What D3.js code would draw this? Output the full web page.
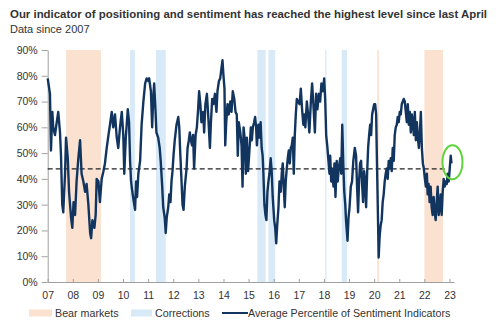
<!DOCTYPE html>
<html>
<head>
<meta charset="utf-8">
<script src="https://cdn.jsdelivr.net/npm/d3@7"></script>
<style>
  body { margin: 0; background: #fff; }
  svg { display: block; font-family: "Liberation Sans", Arial, sans-serif; }
  .axis text { fill: #333; font-size: 10.5px; }
  .axis path, .axis line { stroke: #a0a0a0; }
</style>
</head>
<body>
<svg id="chart" width="500" height="324"></svg>
<script>
// decimal years and average percentile (%)
const dates = [
  2007.00, 2007.03, 2007.09, 2007.13, 2007.185, 2007.22, 2007.29, 2007.36, 2007.42, 2007.49,
  2007.53, 2007.58, 2007.62, 2007.69, 2007.73, 2007.80, 2007.85, 2007.93, 2007.98, 2008.03,
  2008.09, 2008.15, 2008.22, 2008.29, 2008.35, 2008.42, 2008.49, 2008.55, 2008.62, 2008.69,
  2008.73, 2008.78, 2008.86, 2008.91, 2008.95, 2009.02, 2009.08, 2009.15, 2009.22, 2009.28,
  2009.35, 2009.42, 2009.48, 2009.55, 2009.61, 2009.68, 2009.75, 2009.81, 2009.88, 2009.95,
  2010.01, 2010.05, 2010.11, 2010.19, 2010.24, 2010.28, 2010.32, 2010.37, 2010.43, 2010.48,
  2010.52, 2010.56, 2010.61, 2010.68, 2010.74, 2010.81, 2010.88, 2010.94,
  2011.00, 2011.04, 2011.11, 2011.16, 2011.20, 2011.24, 2011.29, 2011.33, 2011.40, 2011.46,
  2011.50, 2011.56, 2011.60, 2011.66, 2011.70, 2011.74, 2011.80, 2011.84, 2011.89, 2011.93,
  2011.97, 2012.01, 2012.06, 2012.13, 2012.20, 2012.24, 2012.27, 2012.33, 2012.37, 2012.41,
  2012.46, 2012.53, 2012.57, 2012.62, 2012.66, 2012.70, 2012.75, 2012.79, 2012.83, 2012.89,
  2012.94, 2012.99, 2013.03, 2013.08, 2013.12, 2013.19, 2013.23, 2013.28, 2013.34, 2013.39,
  2013.46, 2013.50, 2013.55, 2013.60, 2013.66, 2013.72, 2013.76, 2013.82, 2013.87, 2013.92,
  2013.96, 2014.00, 2014.04, 2014.07, 2014.11, 2014.16, 2014.21, 2014.27, 2014.32, 2014.37,
  2014.43, 2014.48, 2014.53, 2014.57, 2014.61, 2014.67, 2014.72, 2014.76, 2014.80, 2014.85,
  2014.89, 2014.93, 2014.98, 2015.04,
  2015.09, 2015.13, 2015.17, 2015.22, 2015.26, 2015.30, 2015.33, 2015.39, 2015.43, 2015.48,
  2015.52, 2015.56, 2015.59, 2015.63, 2015.67, 2015.71, 2015.75, 2015.79, 2015.83, 2015.88,
  2015.92, 2015.96, 2016.02, 2016.06, 2016.10, 2016.14, 2016.19, 2016.23, 2016.28, 2016.32,
  2016.36, 2016.40, 2016.44, 2016.48, 2016.52, 2016.56, 2016.60, 2016.64, 2016.68, 2016.72,
  2016.76, 2016.80, 2016.84, 2016.88, 2016.92, 2016.97, 2017.03, 2017.08, 2017.13, 2017.18,
  2017.22, 2017.26, 2017.32, 2017.37, 2017.42, 2017.48, 2017.53, 2017.58, 2017.64, 2017.69,
  2017.74, 2017.80, 2017.85, 2017.90, 2017.96, 2018.01, 2018.05, 2018.09, 2018.14, 2018.18,
  2018.22, 2018.25, 2018.29, 2018.33, 2018.38, 2018.42, 2018.46, 2018.51, 2018.55, 2018.59,
  2018.65, 2018.69, 2018.73, 2018.77, 2018.81, 2018.85, 2018.88, 2018.94, 2018.98, 2019.02,
  2019.07,
  2019.12, 2019.17, 2019.23, 2019.28, 2019.32, 2019.36, 2019.40, 2019.44, 2019.48, 2019.52,
  2019.56, 2019.60, 2019.64, 2019.68, 2019.72, 2019.76, 2019.80, 2019.84, 2019.88, 2019.92,
  2019.96, 2020.00, 2020.04, 2020.08, 2020.10, 2020.13, 2020.16, 2020.18, 2020.22, 2020.26,
  2020.30, 2020.34, 2020.38, 2020.42, 2020.46, 2020.50, 2020.54, 2020.58, 2020.62, 2020.66,
  2020.70, 2020.74, 2020.78, 2020.82, 2020.86, 2020.90, 2020.94, 2020.98, 2021.02, 2021.06,
  2021.10, 2021.14, 2021.18, 2021.22, 2021.26, 2021.30, 2021.34, 2021.38, 2021.42, 2021.46,
  2021.50, 2021.54, 2021.58, 2021.62, 2021.66, 2021.70, 2021.74, 2021.78, 2021.82, 2021.86,
  2021.90, 2021.94, 2021.98, 2022.02, 2022.06, 2022.10, 2022.13, 2022.17, 2022.21, 2022.25,
  2022.29, 2022.33, 2022.37, 2022.41, 2022.45, 2022.49, 2022.53, 2022.57, 2022.61, 2022.65,
  2022.69, 2022.73, 2022.77, 2022.81, 2022.85, 2022.89, 2022.93, 2022.97, 2023.01, 2023.05,
  2023.08
]
const percentile = [
  79, 77, 73, 51, 66, 60, 57, 62, 66, 58,
  49, 30, 27, 42, 56, 48, 35, 25, 21, 31,
  26, 39, 48, 55, 42, 39, 35, 38, 30, 19,
  17, 24, 21, 26, 40, 39, 31, 40, 43, 46,
  52, 57, 61, 66, 60, 65, 56, 52, 60, 66,
  57, 42, 56, 67, 62, 47, 39, 35, 31, 28,
  39, 33, 42, 47, 61, 70, 77, 79,
  78, 79, 74, 60, 71, 77, 67, 58, 56, 52,
  47, 37, 29, 25, 19, 25, 29, 34, 31, 39,
  43, 49, 55, 61, 64, 60, 52, 39, 30, 28,
  37, 44, 52, 55, 58, 55, 53, 57, 44, 57,
  60, 67, 74, 69, 62, 66, 58, 69, 73, 65,
  52, 62, 71, 69, 73, 66, 74, 78, 79, 83,
  86, 80, 75, 53, 62, 69, 65, 70, 66, 74,
  71, 66, 65, 49, 62, 58, 53, 37, 60, 55,
  42, 56, 43, 52,
  60, 55, 60, 62, 64, 60, 53, 61, 56, 62,
  52, 49, 42, 30, 26, 24, 35, 39, 42, 48,
  43, 33, 24, 21, 15, 22, 29, 39, 35, 42,
  46, 37, 29, 39, 44, 48, 51, 46, 52, 53,
  56, 42, 57, 65, 71, 70, 69, 75, 67, 61,
  65, 60, 70, 65, 58, 70, 77, 69, 58, 73,
  67, 73, 70, 77, 74, 79, 71, 57, 52, 47,
  42, 49, 39, 44, 37, 46, 33, 47, 39, 44,
  48, 42, 61, 46, 35, 30, 24, 16, 25, 29,
  37,
  39, 47, 52, 49, 37, 27, 39, 46, 47, 38,
  31, 43, 39, 29, 42, 52, 57, 61, 57, 65,
  67, 69, 69, 65, 53, 37, 21, 9.5, 18, 22,
  24, 31, 34, 39, 42, 44, 40, 47, 44, 48,
  43, 52, 47, 57, 60, 61, 64, 62, 66, 65,
  69, 70, 71, 70, 66, 62, 69, 61, 66, 58,
  65, 62, 57, 66, 55, 62, 56, 52, 58, 66,
  52, 46, 44, 40, 37, 42, 34, 38, 31, 37,
  29, 26, 33, 27, 24, 31, 37, 26, 29, 34,
  26, 35, 40, 37, 39, 38, 42, 39, 44, 49,
  46
]

const threshold = 43.9

const bearStart = [2007.73, 2020.12, 2022.00]
const bearEnd = [2009.12, 2020.19, 2022.74]
const correctionStart = [2010.28, 2011.31, 2015.35, 2015.79, 2018.05, 2018.71]
const correctionEnd = [2010.47, 2011.70, 2015.68, 2016.06, 2018.10, 2018.92]

const yearTicks = d3.range(2007, 2024)
const percentTicks = d3.range(0, 91, 10)

const BEAR_COLOR = '#fbe2d0'
const CORRECTION_COLOR = '#d8e9f8'
const LINE_COLOR = '#12355f'

const svg = d3.select('#chart')

const x = d3.scaleLinear().domain([2007, 2023.18]).range([47.7, 454])
const y = d3.scaleLinear().domain([0, 90]).range([282, 50])

// title
svg.append('text')
  .attr('x', 10).attr('y', 18)
  .attr('fill', '#333')
  .style('font-size', '11.5px')
  .style('font-weight', 'bold')
  .attr('textLength', 477)
  .attr('lengthAdjust', 'spacingAndGlyphs')
  .text('Our indicator of positioning and sentiment has reached the highest level since last April')

svg.append('text')
  .attr('x', 10).attr('y', 33)
  .attr('fill', '#333')
  .style('font-size', '11px')
  .text('Data since 2007')

// shaded periods
const bands = svg.append('g')
bands.selectAll('rect.bear')
  .data(d3.zip(bearStart, bearEnd))
  .enter()
  .append('rect')
  .attr('class', 'bear')
  .attr('x', d => x(d[0]))
  .attr('width', d => Math.max(1, x(d[1]) - x(d[0])))
  .attr('y', y(90))
  .attr('height', y(0) - y(90))
  .attr('fill', BEAR_COLOR)

bands.selectAll('rect.correction')
  .data(d3.zip(correctionStart, correctionEnd))
  .enter()
  .append('rect')
  .attr('class', 'correction')
  .attr('x', d => x(d[0]))
  .attr('width', d => Math.max(1, x(d[1]) - x(d[0])))
  .attr('y', y(90))
  .attr('height', y(0) - y(90))
  .attr('fill', CORRECTION_COLOR)

// axes
svg.append('g')
  .attr('class', 'axis')
  .attr('transform', `translate(${x(2007)},0)`)
  .call(d3.axisLeft(y).tickValues(percentTicks).tickFormat(d => d + '%').tickSizeInner(6).tickSizeOuter(0).tickPadding(4))

svg.append('g')
  .attr('class', 'axis')
  .attr('transform', `translate(0,${y(0)})`)
  .call(d3.axisBottom(x).tickValues(yearTicks).tickFormat(d => String(d).slice(2)).tickSizeInner(-3).tickSizeOuter(0).tickPadding(10))

// threshold
svg.append('line')
  .attr('x1', x(2007)).attr('x2', x(2022.9))
  .attr('y1', y(threshold)).attr('y2', y(threshold))
  .attr('stroke', '#222')
  .attr('stroke-width', 1.3)
  .attr('stroke-dasharray', '5,3')

// main series
const points = d3.zip(dates, percentile)
const line = d3.line()
  .x(d => x(d[0]))
  .y(d => y(d[1]))

svg.append('path')
  .datum(points)
  .attr('d', line)
  .attr('fill', 'none')
  .attr('stroke', LINE_COLOR)
  .attr('stroke-width', 2.4)
  .attr('stroke-linejoin', 'round')

// highlight the latest reading
const last = points[points.length - 1]
svg.append('ellipse')
  .attr('cx', x(last[0]) + 1)
  .attr('cy', y(46.5))
  .attr('rx', 10)
  .attr('ry', 17)
  .attr('fill', 'none')
  .attr('stroke', '#5ed33a')
  .attr('stroke-width', 2)

// legend
const legend = svg.append('g').style('font-size', '10.7px')
const legendY = 313

legend.append('rect').attr('x', 29).attr('y', legendY - 3.5).attr('width', 23).attr('height', 7).attr('fill', BEAR_COLOR)
legend.append('text').attr('x', 55).attr('y', legendY + 3.8).attr('fill', '#333').text('Bear markets')

legend.append('rect').attr('x', 131).attr('y', legendY - 3.5).attr('width', 21).attr('height', 7).attr('fill', CORRECTION_COLOR)
legend.append('text').attr('x', 155).attr('y', legendY + 3.8).attr('fill', '#333').text('Corrections')

legend.append('line').attr('x1', 222).attr('x2', 248).attr('y1', legendY).attr('y2', legendY).attr('stroke', LINE_COLOR).attr('stroke-width', 2)
legend.append('text').attr('x', 248).attr('y', legendY + 3.8).attr('fill', '#333').text('Average Percentile of Sentiment Indicators')
</script>
</body>
</html>
